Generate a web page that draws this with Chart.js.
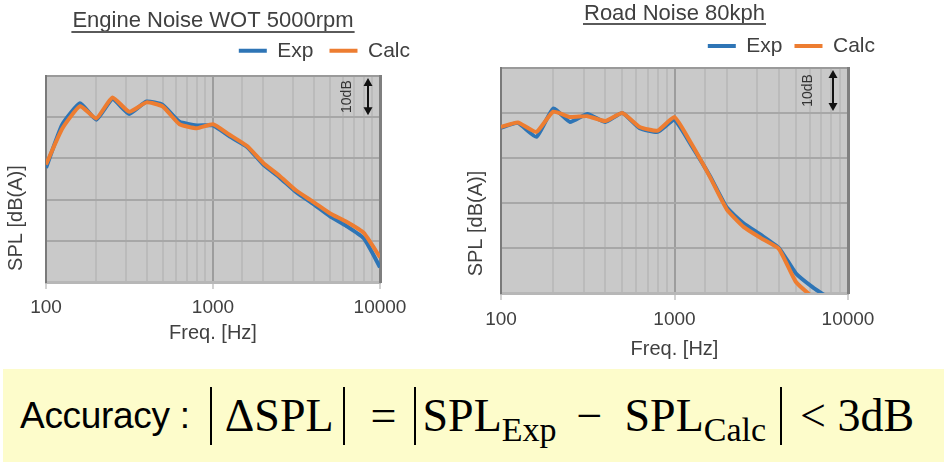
<!DOCTYPE html>
<html lang="en">
<head>
<meta charset="UTF-8">
<title>Engine / Road Noise SPL</title>
<script src="https://cdn.jsdelivr.net/npm/chart.js"></script>
<style>
  body { margin: 0; width: 948px; height: 462px; background: #fff; position: relative; overflow: hidden;
         font-family: 'Liberation Sans', Arial, sans-serif; }
  .wrap { position: absolute; top: 0; height: 365px; }
  #engineWrap { left: 0; width: 470px; }
  #roadWrap { left: 462px; width: 486px; }
  .formula { position: absolute; left: 3px; top: 369px; width: 941px; height: 93px; background: #fdfccb;
             display: flex; align-items: center; color: #000; white-space: nowrap; }
  .acc { font-size: 37px; letter-spacing: -0.3px; margin-left: 17px; }
  .m { font-family: 'Liberation Serif', 'Times New Roman', serif; font-size: 46px; }
  .m sub { font-size: 34px; vertical-align: -10px; line-height: 0; }
  .bar { display: inline-block; width: 0; height: 58px; border-left: 2px solid #000; }
</style>
</head>
<body>
  <div class="wrap" id="engineWrap"><canvas id="engineChart"></canvas></div>
  <div class="wrap" id="roadWrap"><canvas id="roadChart"></canvas></div>

  <div class="formula">
    <span class="acc">Accuracy :</span>
    <span class="bar" style="margin-left:20px"></span>
    <span class="m" style="margin-left:13px">ΔSPL</span>
    <span class="bar" style="margin-left:9px"></span>
    <span class="m" style="margin-left:26px">=</span>
    <span class="bar" style="margin-left:17px"></span>
    <span class="m" style="margin-left:7px">SPL<sub>Exp</sub></span>
    <span class="m" style="margin-left:20px">−</span>
    <span class="m" style="margin-left:22px">SPL<sub>Calc</sub></span>
    <span class="bar" style="margin-left:14px"></span>
    <span class="m" style="margin-left:18px">&lt; 3dB</span>
  </div>

<script>
// 1/3 octave bands, Hz
const freqBands = [100, 125, 160, 200, 250, 315, 400, 500, 630, 800, 1000, 1250, 1600, 2000, 2500, 3150, 4000, 5000, 6300, 8000, 10000];
const xTickLabels = [100, 1000, 10000];

// Engine Noise WOT 5000rpm (dB, relative, 10dB per grid)
const engineExp  = [27.7, 38.2, 43.4, 39.4, 44.4, 40.8, 43.8, 43.0, 38.9, 38.0, 38.0, 35.4, 32.8, 28.5, 25.4, 21.8, 18.9, 16.0, 13.6, 10.6, 3.6];
const engineCalc = [28.5, 37.2, 42.7, 39.7, 44.8, 41.3, 43.6, 42.6, 38.3, 37.3, 38.3, 35.8, 33.0, 28.9, 25.8, 22.2, 19.4, 16.7, 14.6, 11.9, 6.0];

// Road Noise 80kph
const roadExp  = [36.7, 37.8, 34.7, 41.0, 38.0, 39.8, 38.0, 40.0, 36.6, 35.8, 38.4, 32.8, 26.0, 19.0, 15.5, 12.9, 10.0, 4.4, 1.2, -1.5, -5];
const roadCalc = [36.9, 37.9, 35.8, 40.3, 39.1, 39.3, 38.2, 40.0, 36.9, 36.1, 39.1, 33.2, 25.8, 18.6, 14.7, 12.2, 9.8, 2.5, -1.0, -4, -7];

const EXP_COLOR = '#2e75b6';
const CALC_COLOR = '#ed7d31';
const TEXT = '#404040';
const FONT = "'Liberation Sans', Arial, sans-serif";

Chart.defaults.font.family = FONT;
Chart.defaults.color = TEXT;

const isDecade = v => Math.abs(Math.log10(v) - Math.round(Math.log10(v))) < 1e-6;
const toPoints = (xs, ys) => xs.map((x, i) => ({ x: x, y: ys[i] }));

// grey plot area
const plotBg = {
  id: 'plotBg',
  beforeDraw(chart) {
    const { ctx, chartArea: a } = chart;
    ctx.save();
    ctx.fillStyle = '#c9c9c9';
    ctx.fillRect(a.left, a.top, a.width, a.height);
    ctx.restore();
  }
};

// underline under the chart title
const titleUnderline = {
  id: 'titleUnderline',
  afterDraw(chart, args, opts) {
    const t = chart.titleBlock;
    if (!t) return;
    const o = t.options;
    const ctx = chart.ctx;
    ctx.save();
    ctx.font = `${o.font.size}px ${FONT}`;
    const w = ctx.measureText(o.text).width;
    const cx = (t.left + t.right) / 2;
    const cy = t.top + o.padding.top + o.font.size * o.font.lineHeight / 2 + opts.offset;
    ctx.strokeStyle = '#5a5a5a';
    ctx.lineWidth = 2;
    ctx.beginPath();
    ctx.moveTo(cx - w / 2 - 1, cy);
    ctx.lineTo(cx + w / 2 + 1, cy);
    ctx.stroke();
    ctx.restore();
  }
};

// "10dB" scale marker in the upper right corner
const tenDb = {
  id: 'tenDb',
  afterDatasetsDraw(chart, args, opts) {
    const { ctx, chartArea: a, scales: { y } } = chart;
    const yTop = y.getPixelForValue(50) + 2;
    const yBot = y.getPixelForValue(40) - 2;
    const ax = a.right - opts.arrowInset;
    ctx.save();
    ctx.strokeStyle = '#111';
    ctx.fillStyle = '#111';
    ctx.lineWidth = 2;
    ctx.beginPath();
    ctx.moveTo(ax, yTop + 6);
    ctx.lineTo(ax, yBot - 6);
    ctx.stroke();
    ctx.beginPath();
    ctx.moveTo(ax, yTop); ctx.lineTo(ax - 4.5, yTop + 8); ctx.lineTo(ax + 4.5, yTop + 8);
    ctx.closePath(); ctx.fill();
    ctx.beginPath();
    ctx.moveTo(ax, yBot); ctx.lineTo(ax - 4.5, yBot - 8); ctx.lineTo(ax + 4.5, yBot - 8);
    ctx.closePath(); ctx.fill();
    ctx.translate(a.right - opts.textInset, (yTop + yBot) / 2);
    ctx.rotate(-Math.PI / 2);
    ctx.font = `14px ${FONT}`;
    ctx.fillStyle = '#333';
    ctx.textAlign = 'center';
    ctx.textBaseline = 'middle';
    ctx.fillText('10dB', 0, 0);
    ctx.restore();
  }
};

function makeChart(canvasId, title, expData, calcData, g) {
  const ctx = document.getElementById(canvasId).getContext('2d');
  return new Chart(ctx, {
    type: 'line',
    data: {
      datasets: [
        { label: 'Exp', data: toPoints(freqBands, expData), borderColor: EXP_COLOR, backgroundColor: EXP_COLOR, order: 2 },
        { label: 'Calc', data: toPoints(freqBands, calcData), borderColor: CALC_COLOR, backgroundColor: CALC_COLOR, order: 1 }
      ]
    },
    options: {
      responsive: true,
      maintainAspectRatio: false,
      animation: false,
      layout: { padding: { left: 0, right: g.padRight, top: 0, bottom: 0 } },
      elements: {
        line: { borderWidth: 4, tension: 0.15 },
        point: { radius: 0 }
      },
      plugins: {
        tooltip: { enabled: false },
        title: {
          display: true,
          text: title,
          fullSize: false,
          color: TEXT,
          font: { size: 22, weight: 'normal', lineHeight: 0.3 },
          padding: { top: g.titleTop, bottom: g.titleBottom }
        },
        legend: {
          align: 'end',
          labels: {
            boxWidth: 28,
            boxHeight: 4,
            padding: g.legendPad,
            color: TEXT,
            font: { size: 21 },
            sort: (a, b) => a.datasetIndex - b.datasetIndex,
            generateLabels: chart => Chart.defaults.plugins.legend.labels.generateLabels(chart)
              .map(l => Object.assign(l, { lineWidth: 0 }))
          }
        },
        titleUnderline: { offset: g.underline },
        tenDb: { arrowInset: g.arrowInset, textInset: g.textInset }
      },
      scales: {
        x: {
          type: 'logarithmic',
          position: 'bottom',
          min: 100,
          max: 10000,
          afterFit: s => { s.height = g.xAxisHeight; },
          ticks: {
            autoSkip: false,
            maxRotation: 0,
            padding: g.tickPad,
            color: TEXT,
            font: { size: 19 },
            callback: v => (isDecade(v) && xTickLabels.includes(Math.round(v))) ? String(Math.round(v)) : ''
          },
          grid: {
            color: c => isDecade(c.tick.value) ? '#9d9d9d' : '#bbbbbb',
            lineWidth: 2,
            tickLength: 7,
            tickColor: c => isDecade(c.tick.value) ? '#d2d2d2' : 'rgba(0,0,0,0)'
          },
          border: { color: '#b7b7b7', width: 3 },
          title: {
            display: true,
            text: 'Freq. [Hz]',
            color: TEXT,
            font: { size: 20 },
            padding: { top: 4, bottom: g.xTitleBottom }
          }
        },
        xTop: {
          type: 'logarithmic',
          position: 'top',
          min: 100,
          max: 10000,
          afterFit: s => { s.height = g.topGap; },
          ticks: { display: false },
          grid: { drawOnChartArea: false, drawTicks: false },
          border: { color: '#9a9a9a', width: 2 }
        },
        y: {
          min: 0,
          max: 50,
          afterFit: s => { s.width = g.yAxisWidth; },
          ticks: { display: false, stepSize: 10 },
          grid: { color: '#a7a7a7', lineWidth: 2, drawTicks: false },
          border: { color: '#7a7a7a', width: 2 },
          title: {
            display: true,
            text: g.yTitle,
            align: 'start',
            color: TEXT,
            font: { size: 20 },
            padding: { top: g.yTitleTop, bottom: 0 }
          }
        },
        yRight: {
          position: 'right',
          min: 0,
          max: 50,
          afterFit: s => { s.width = g.rightAxisWidth; },
          ticks: { display: false },
          grid: { drawOnChartArea: false, drawTicks: false },
          border: { color: '#7f7f7f', width: 3 }
        }
      }
    },
    plugins: [plotBg, titleUnderline, tenDb]
  });
}

makeChart('engineChart', 'Engine Noise WOT 5000rpm', engineExp, engineCalc, {
  padRight: 44, rightAxisWidth: 46, yAxisWidth: 46,
  titleTop: 17.7, titleBottom: 0, legendPad: 16, topGap: 4.7, underline: 11,
  xAxisHeight: 83, tickPad: 7.5, xTitleBottom: 19.6,
  yTitle: '  SPL [dB(A)]', yTitleTop: 4,
  arrowInset: 12, textInset: 33
});

makeChart('roadChart', 'Road Noise 80kph', roadExp, roadCalc, {
  padRight: 61, rightAxisWidth: 39, yAxisWidth: 39,
  titleTop: 10.7, titleBottom: 6.2, legendPad: 12, topGap: 1.5, underline: 10,
  xAxisHeight: 72, tickPad: 8, xTitleBottom: 3.6,
  yTitle: '   SPL [dB(A)]', yTitleTop: 2,
  arrowInset: 15, textInset: 40
});
</script>
</body>
</html>
